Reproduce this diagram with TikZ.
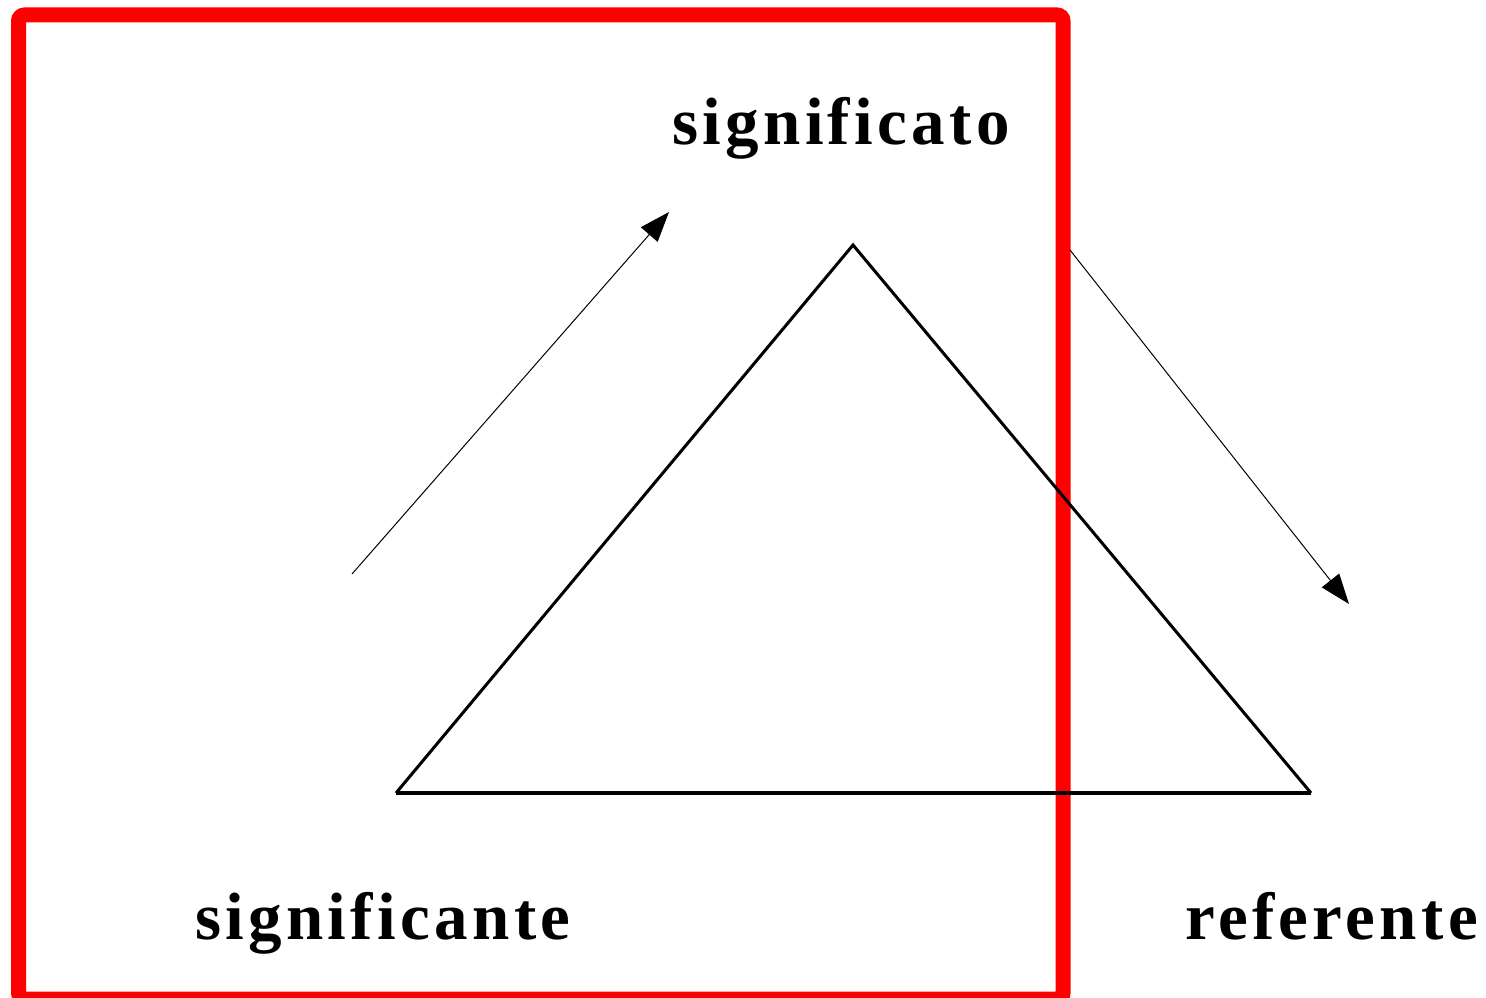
\documentclass[tikz,border=0pt]{standalone}
\usepackage{fontspec}
\newfontfamily\labfont[LetterSpace=6.5]{Liberation Serif}
\usetikzlibrary{arrows.meta}
\tikzset{
  lab/.style={font=\labfont\bfseries\fontsize{67}{67}\selectfont, inner sep=0pt, anchor=base west},
  redframe/.style={draw=red, line width=15pt, rounded corners=6pt},
  tri/.style={draw=black, line width=3pt, line join=miter},
  base/.style={draw=black, line width=4.5pt},
  arr/.style={draw=black, line width=1pt, -{Triangle[length=30pt,width=22pt]}}
}
\begin{document}
\begin{tikzpicture}[x=1pt,y=-1pt]
\useasboundingbox (0,0) rectangle (1486,998);
\begin{scope}
\clip (0,0) rectangle (1486,998);
\draw[redframe] (18.5,15) rectangle (1063,999);
\end{scope}
\coordinate (top) at (853,245);
\coordinate (bl) at (396,793);
\coordinate (br) at (1311,793);
\draw[tri] (bl) -- (top) -- (br);
\draw[base] (bl) -- (br);
\coordinate (a1s) at (352,574);
\coordinate (a1e) at (669,212);
\coordinate (a2s) at (1070,250);
\coordinate (a2e) at (1349,604);
\draw[arr] (a1s) -- (a1e);
\draw[arr] (a2s) -- (a2e);
\node[lab] (sgto) at (672,144) {significato};
\node[lab] (sgte) at (195,939) {significante};
\node[lab] (ref) at (1185,939) {referente};
\end{tikzpicture}
\end{document}
